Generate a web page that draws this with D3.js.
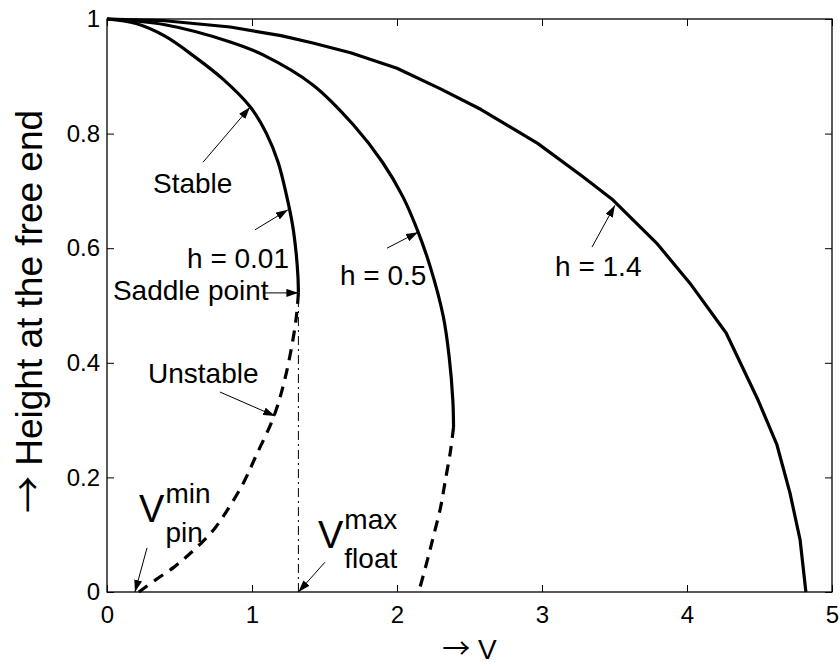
<!DOCTYPE html>
<html>
<head>
<meta charset="utf-8">
<script src="https://cdn.jsdelivr.net/npm/d3@7"></script>
<style>
  html, body { margin: 0; padding: 0; background: #fff; }
  svg { display: block; font-family: "Liberation Sans", Arial, Helvetica, sans-serif; }
</style>
</head>
<body>
<svg id="chart" width="840" height="666"></svg>
<script>
// Axis ticks
const xTickValues = [0, 1, 2, 3, 4, 5];
const xTickLabels = ["0", "1", "2", "3", "4", "5"];
const yTickValues = [0, 0.2, 0.4, 0.6, 0.8, 1];
const yTickLabels = ["0", "0.2", "0.4", "0.6", "0.8", "1"];

// Equilibrium branches [V, height], stable (solid) and unstable (dashed)
const stableH001 = [[0, 1], [0.2, 0.992], [0.4, 0.97], [0.6, 0.935], [0.8, 0.895], [0.99, 0.846],
  [1.1, 0.8], [1.18, 0.75], [1.24, 0.69], [1.28, 0.64], [1.305, 0.59], [1.317, 0.55], [1.32, 0.522]];
const unstableH001 = [[1.32, 0.522], [1.31, 0.49], [1.29, 0.452], [1.23, 0.375], [1.15, 0.306],
  [1.03, 0.239], [0.94, 0.19], [0.83, 0.143], [0.74, 0.11], [0.64, 0.083], [0.55, 0.062],
  [0.46, 0.043], [0.34, 0.022], [0.22, 0]];
const stableH05 = [[0, 1], [0.4, 0.99], [0.85, 0.96], [1.08, 0.937], [1.42, 0.885], [1.7, 0.815],
  [1.9, 0.75], [2.04, 0.69], [2.14, 0.632], [2.23, 0.567], [2.32, 0.48], [2.36, 0.41],
  [2.385, 0.335], [2.39, 0.288]];
const unstableH05 = [[2.39, 0.288], [2.37, 0.248], [2.33, 0.19], [2.30, 0.147], [2.25, 0.096],
  [2.21, 0.056], [2.15, 0]];
const stableH14 = [[0, 1], [0.4, 0.997], [0.85, 0.986], [1.2, 0.971], [1.42, 0.958], [1.68, 0.941],
  [2.0, 0.914], [2.3, 0.878], [2.58, 0.842], [2.97, 0.783], [3.28, 0.725], [3.49, 0.684],
  [3.79, 0.609], [4.02, 0.539], [4.27, 0.452], [4.49, 0.335], [4.62, 0.257], [4.71, 0.173],
  [4.78, 0.091], [4.82, 0]];

// Saddle point of the h = 0.01 branch
const saddle = [1.32, 0.522];

// Annotations: label anchor, arrow tail and arrow tip, all in [V, height]
const notes = [
  { text: "Stable",       at: [0.317, 0.696], from: [0.662, 0.750], to: [0.986, 0.846] },
  { text: "h = 0.01",     at: [0.552, 0.565], from: [1.02, 0.632],  to: [1.248, 0.667] },
  { text: "Saddle point", at: [0.041, 0.510], from: [1.076, 0.522], to: [1.32, 0.522] },
  { text: "h = 0.5",      at: [1.607, 0.536], from: [1.931, 0.600], to: [2.145, 0.628] },
  { text: "h = 1.4",      at: [3.09, 0.551],  from: [3.345, 0.602], to: [3.503, 0.675] },
  { text: "Unstable",     at: [0.283, 0.365], from: [0.779, 0.349], to: [1.159, 0.307] }
];
const limitNotes = [
  { base: "V", sup: "min", sub: "pin",   at: [0.221, 0.122], from: [0.276, 0.077], to: [0.193, 0] },
  { base: "V", sup: "max", sub: "float", at: [1.455, 0.077], from: [1.503, 0.052], to: [1.32, 0] }
];

const svg = d3.select("#chart");
const W = 840, H = 666;
const margin = { top: 19, right: 8, bottom: 74, left: 107 };

const x = d3.scaleLinear().domain([0, 5]).range([margin.left, W - margin.right]);
const y = d3.scaleLinear().domain([0, 1]).range([H - margin.bottom, margin.top]);

// Arrowhead
svg.append("defs").append("marker")
  .attr("id", "head")
  .attr("viewBox", "0 0 12 8")
  .attr("refX", 12).attr("refY", 4)
  .attr("markerWidth", 12).attr("markerHeight", 8)
  .attr("markerUnits", "userSpaceOnUse")
  .attr("orient", "auto")
  .append("path").attr("d", "M0,0 L12,4 L0,8 Z").attr("fill", "#000");

// Axes with inward ticks on all four sides
const tickLen = 7;
const fmtX = (d, i) => xTickLabels[i];
const fmtY = (d, i) => yTickLabels[i];

const gx = svg.append("g").attr("transform", `translate(0,${y(0)})`)
  .call(d3.axisBottom(x).tickValues(xTickValues).tickFormat(fmtX).tickSizeInner(-tickLen).tickSizeOuter(0).tickPadding(14));
const gxTop = svg.append("g").attr("transform", `translate(0,${y(1)})`)
  .call(d3.axisTop(x).tickValues(xTickValues).tickFormat("").tickSizeInner(-tickLen).tickSizeOuter(0));
const gy = svg.append("g").attr("transform", `translate(${x(0)},0)`)
  .call(d3.axisLeft(y).tickValues(yTickValues).tickFormat(fmtY).tickSizeInner(-tickLen).tickSizeOuter(0).tickPadding(7));
const gyRight = svg.append("g").attr("transform", `translate(${x(5)},0)`)
  .call(d3.axisRight(y).tickValues(yTickValues).tickFormat("").tickSizeInner(-tickLen).tickSizeOuter(0));

[gx, gxTop, gy, gyRight].forEach(g => {
  g.select(".domain").remove();
  g.selectAll(".tick line").attr("stroke", "#000").attr("stroke-width", 1);
  g.selectAll(".tick text").attr("fill", "#000").style("font-size", "24px")
    .style("font-family", '"Liberation Sans", Arial, sans-serif');
});

// Box
svg.append("rect")
  .attr("x", x(0)).attr("y", y(1))
  .attr("width", x(5) - x(0)).attr("height", y(0) - y(1))
  .attr("fill", "none").attr("stroke", "#000").attr("stroke-width", 1.3);

// Curves: the two inner branches are smooth, the h = 1.4 branch is a polyline
const smooth = d3.line().x(d => x(d[0])).y(d => y(d[1])).curve(d3.curveCatmullRom.alpha(0.5));
const straight = d3.line().x(d => x(d[0])).y(d => y(d[1]));

const solidSeries = [
  { pts: stableH001, gen: smooth },
  { pts: stableH05, gen: smooth },
  { pts: stableH14, gen: straight }
];
svg.append("g").selectAll("path").data(solidSeries).join("path")
  .attr("d", d => d.gen(d.pts)).attr("fill", "none").attr("stroke", "#000")
  .attr("stroke-width", 3.2).attr("stroke-linejoin", "round");

svg.append("g").selectAll("path").data([unstableH001, unstableH05]).join("path")
  .attr("d", smooth).attr("fill", "none").attr("stroke", "#000")
  .attr("stroke-width", 3.2).attr("stroke-dasharray", "11,8");

// Vertical dash-dot line below the saddle point
svg.append("line")
  .attr("x1", x(saddle[0])).attr("x2", x(saddle[0]))
  .attr("y1", y(0)).attr("y2", y(saddle[1]))
  .attr("stroke", "#000").attr("stroke-width", 1)
  .attr("stroke-dasharray", "9,4,2,4");

// Annotations
const noteG = svg.append("g");
notes.concat(limitNotes).forEach(n => {
  noteG.append("line")
    .attr("x1", x(n.from[0])).attr("y1", y(n.from[1]))
    .attr("x2", x(n.to[0])).attr("y2", y(n.to[1]))
    .attr("stroke", "#000").attr("stroke-width", 1)
    .attr("marker-end", "url(#head)");
});

noteG.selectAll("text").data(notes).join("text")
  .attr("x", d => x(d.at[0])).attr("y", d => y(d.at[1]))
  .style("font-size", "28px").attr("fill", "#000")
  .text(d => d.text);

limitNotes.forEach(n => {
  const bx = x(n.at[0]), by = y(n.at[1]);
  const base = noteG.append("text").attr("x", bx).attr("y", by)
    .style("font-size", "38px").text(n.base);
  const bw = base.node().getComputedTextLength();
  noteG.append("text").attr("x", bx + bw + 1).attr("y", by - 19)
    .style("font-size", "28px").text(n.sup);
  noteG.append("text").attr("x", bx + bw + 1).attr("y", by + 20)
    .style("font-size", "28px").text(n.sub);
});

// Axis labels (thin full-width arrow glyph)
const arrowFont = '"Noto Sans CJK JP", "Noto Sans CJK SC", sans-serif';
const xLab = svg.append("text")
  .attr("x", (x(0) + x(5)) / 2).attr("y", 659)
  .attr("text-anchor", "middle").style("font-size", "28px");
xLab.append("tspan").style("font-family", arrowFont).text("\u2192");
xLab.append("tspan").text(" V");

const yLab = svg.append("text")
  .attr("transform", `translate(42,${y(0.5) + 6}) rotate(-90)`)
  .attr("text-anchor", "middle").style("font-size", "37px");
yLab.append("tspan").style("font-family", arrowFont).text("\u2192");
yLab.append("tspan").text(" Height at the free end");
</script>
</body>
</html>
